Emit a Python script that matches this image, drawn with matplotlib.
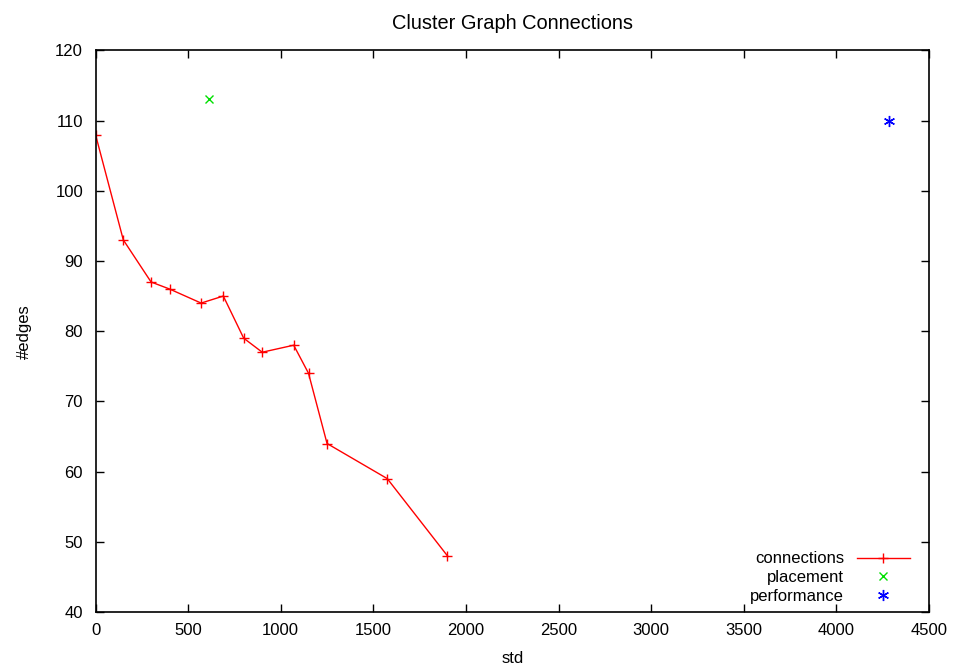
import matplotlib
matplotlib.use("Agg")
import matplotlib.pyplot as plt

# =====================================================
# DATA
# =====================================================

conn_std = [0, 150, 300, 400, 570, 690, 800, 900, 1070, 1150, 1250, 1575, 1900]
conn_edges = [108, 93, 87, 86, 84, 85, 79, 77, 78, 74, 64, 59, 48]

place_std = [615]
place_edges = [113]

perf_std = [4285]
perf_edges = [110]

x_ticks = list(range(0, 4501, 500))
y_ticks = list(range(40, 121, 10))

# =====================================================
# PLOT
# =====================================================

plt.rcParams["font.family"] = ["Liberation Sans", "DejaVu Sans"]
plt.rcParams["font.size"] = 12

fig = plt.figure(figsize=(9.56, 6.68), dpi=100)
ax = fig.add_axes([0.0999, 0.0838, 0.8719, 0.8409])

ax.plot(conn_std, conn_edges, color="#ff0000", linewidth=1.0,
        marker="+", markersize=7, markeredgewidth=1.0, label="connections")
ax.plot(place_std, place_edges, linestyle="none", color="#00e000",
        marker="x", markersize=6, markeredgewidth=1.0, label="placement")
ax.plot(perf_std, perf_edges, linestyle="none", color="#0000ff",
        marker=(6, 2, 0), markersize=8, markeredgewidth=1.0, label="performance")

ax.set_xlim(0, 4500)
ax.set_ylim(40, 120)
ax.set_xticks(x_ticks)
ax.set_yticks(y_ticks)

ax.tick_params(direction="in", top=True, right=True, length=6, width=1.0)
ax.tick_params(axis="x", pad=8)
ax.tick_params(axis="y", pad=9)
for s in ax.spines.values():
    s.set_linewidth(1.2)

ax.set_title("Cluster Graph Connections", pad=15)
ax.set_xlabel("std", labelpad=9)
ax.set_ylabel("#edges", labelpad=17)

ax.legend(loc="lower right", frameon=False, markerfirst=False,
          handlelength=3.2, handletextpad=0.75, labelspacing=0.22,
          borderaxespad=0.1, fontsize=12, bbox_to_anchor=(0.987, 0.0))

fig.savefig("out.png", dpi=100)
